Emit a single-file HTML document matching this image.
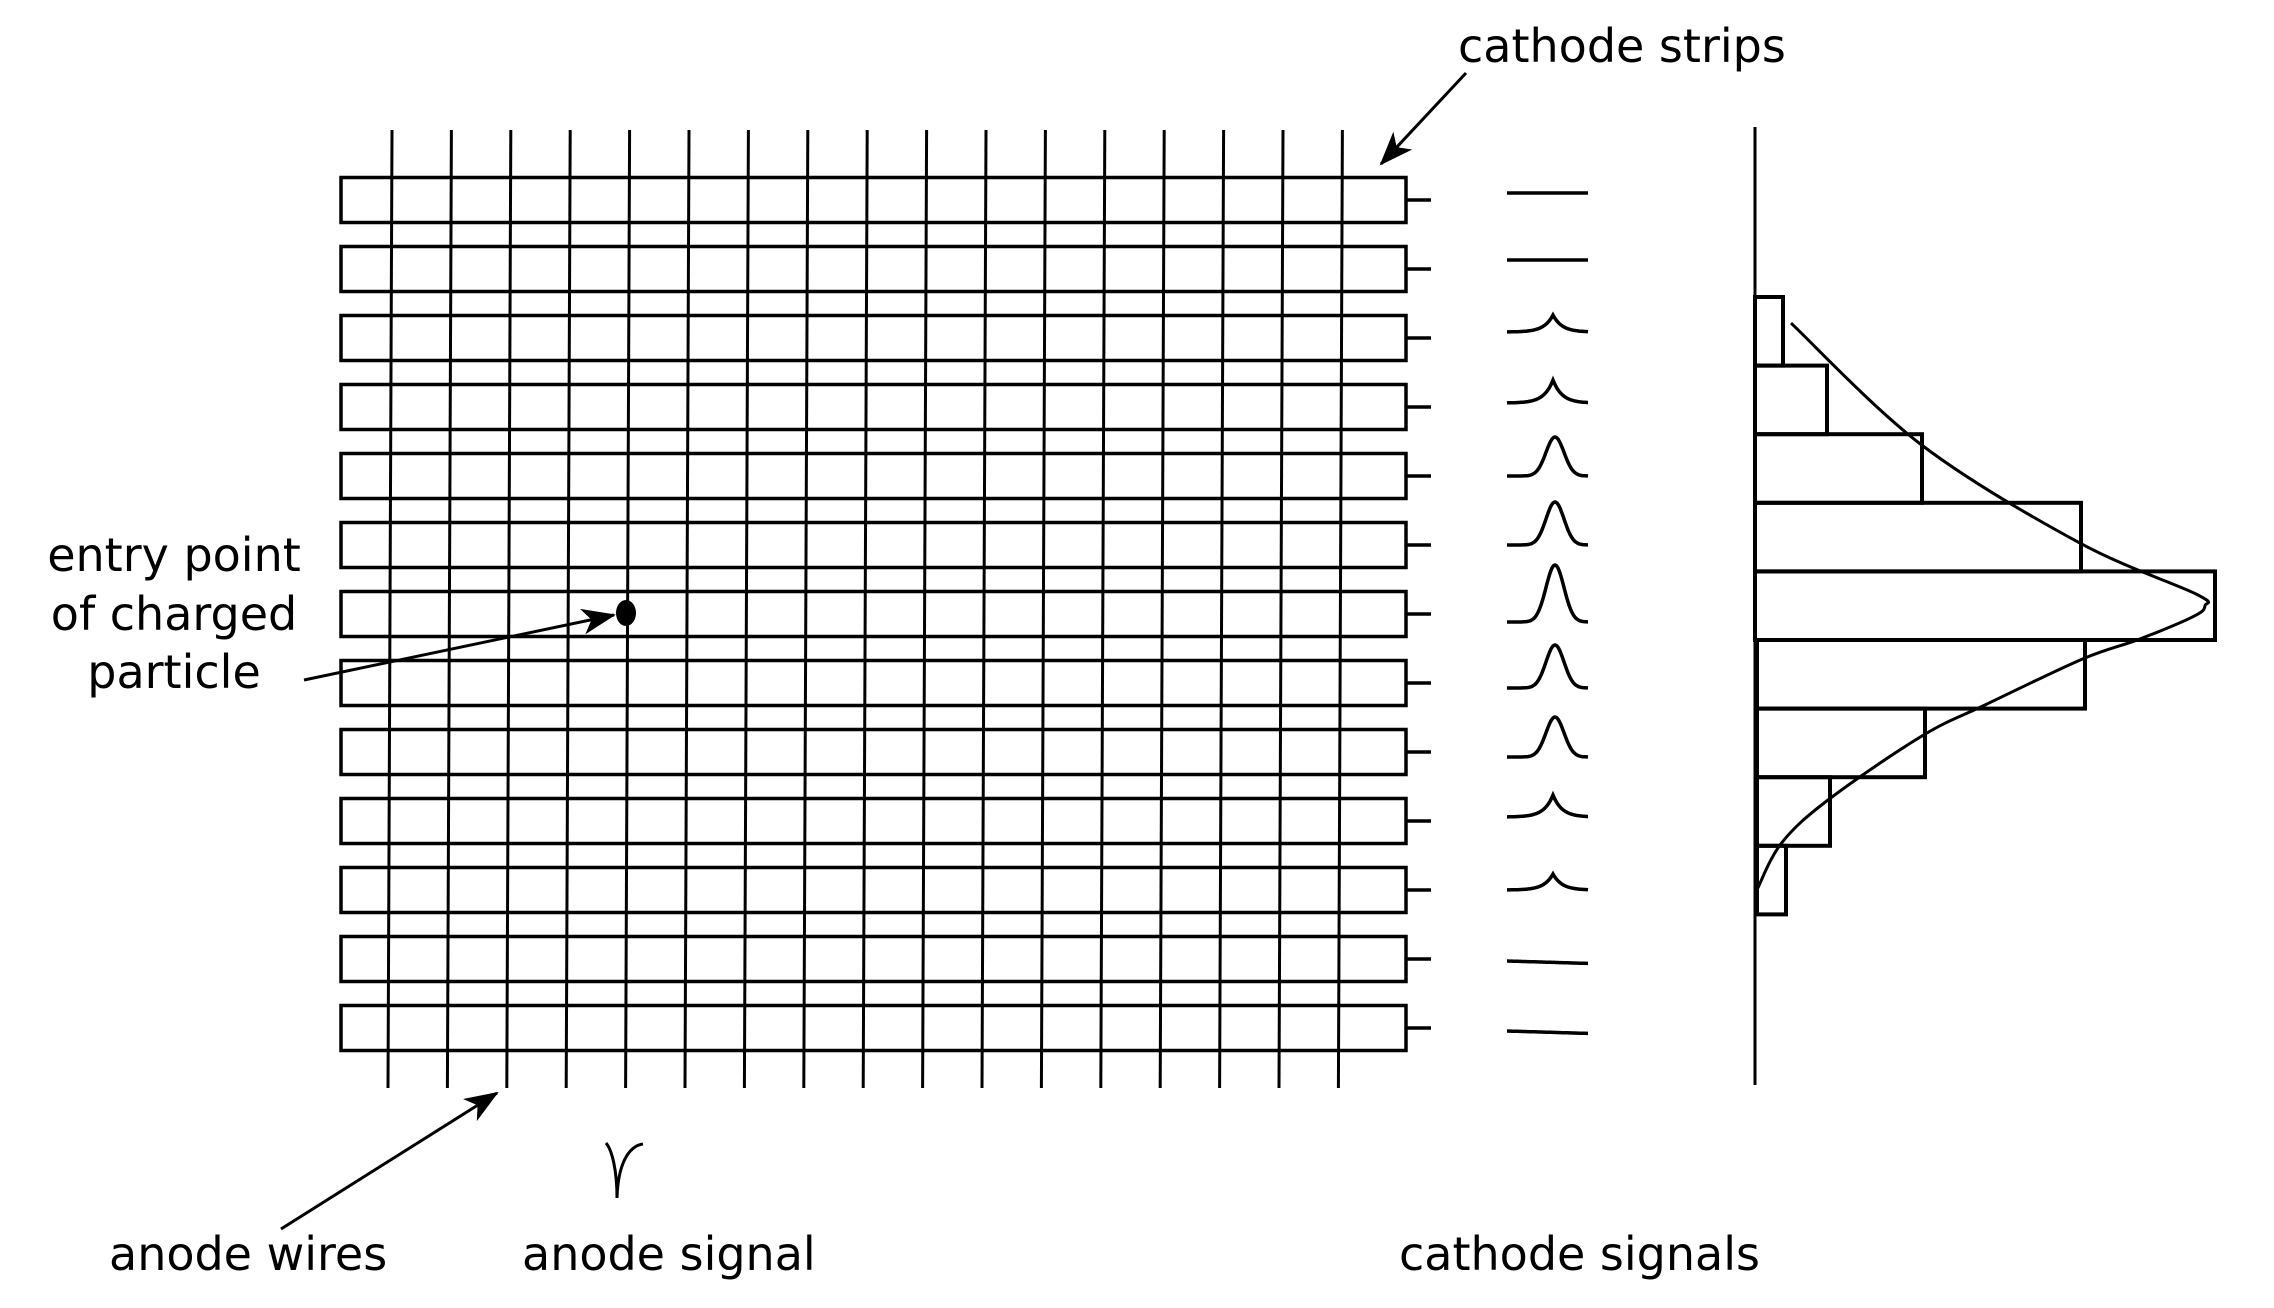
<!DOCTYPE html>
<html><head><meta charset="utf-8"><style>
html,body{margin:0;padding:0;background:#fff;}
svg{display:block;}
text{font-family:"DejaVu Sans","Liberation Sans",sans-serif;font-size:46px;fill:#000;}
</style></head><body>
<svg id="fig" width="2274" height="1308" viewBox="0 0 2274 1308" xmlns="http://www.w3.org/2000/svg">
<defs>
<marker id="ah2" markerWidth="34" markerHeight="26" refX="32" refY="13" orient="auto" markerUnits="userSpaceOnUse"><path d="M0,0 L34,13 L0,26 L9,13 Z" fill="#000"/></marker></defs>
<g id="grid"></g>
<g id="signals"></g>
<g id="hist"></g>
<g id="ann">
<text x="1458" y="62">cathode strips</text>
<line x1="1466" y1="73" x2="1381" y2="164" stroke="#000" stroke-width="3" marker-end="url(#ah2)"/>
<text x="174" y="571" text-anchor="middle">entry point</text>
<text x="174" y="630" text-anchor="middle">of charged</text>
<text x="174" y="688" text-anchor="middle">particle</text>
<line x1="304" y1="680" x2="614" y2="615" stroke="#000" stroke-width="3" marker-end="url(#ah2)"/>
<ellipse cx="626" cy="613" rx="10" ry="13" fill="#000"/>
<text x="109" y="1270">anode wires</text>
<line x1="281" y1="1229" x2="497" y2="1093" stroke="#000" stroke-width="3" marker-end="url(#ah2)"/>
<path d="M606,1143 C612,1150 617,1170 617,1198 C618,1165 628,1146 643,1144" fill="none" stroke="#000" stroke-width="3"/>
<text x="522" y="1270">anode signal</text>
<text x="1399" y="1270">cathode signals</text>
</g>
</svg>
<script>
// data
const stripIndex = [0,1,2,3,4,5,6,7,8,9,10,11,12];
const signalAmp = [0,0,17,23,39,43,57,43,40,22,16,0,0];
const signalShape = ['flat','flat','cusp','cusp','peak','peak','peak','peak','peak','cusp','cusp','flat','flat'];
const signalBaseOffset = [-7,-9,-6,-4,0,0,8,5,5,-4,0,2,3];
const wireIndex = [0,1,2,3,4,5,6,7,8,9,10,11,12,13,14,15,16];
const histCharge = [28,72,167,326,460,330,170,75,31];
const curveCharge = [36,166,324,441,450,438,384,327,231,168,75,27,2];
const curveBin = [0.38,2.15,3.58,4.33,4.5,4.66,4.99,5.28,5.94,6.39,7.31,7.95,8.64];

const NS='http://www.w3.org/2000/svg';
function mk(tag, attrs, parent){const e=document.createElementNS(NS,tag);for(const k in attrs)e.setAttribute(k,attrs[k]);parent.appendChild(e);return e;}
// axes
const stripY = i => 200 + i*69;
const wireX = i => 392 + i*59.4;
const histX = v => 1755 + v;
const binY = b => 297 + b*68.6;

const grid=document.getElementById('grid');
stripIndex.forEach(i=>{
  const r=mk('rect',{x:341,y:stripY(i)-22.5,width:1065,height:45,fill:'none',stroke:'#000','stroke-width':3.5},grid);
  
  
  const s=mk('line',{x1:1406,y1:stripY(i),x2:1431,y2:stripY(i),stroke:'#000','stroke-width':3.5},grid);
  
  
});
wireIndex.forEach(i=>{
  const l=mk('line',{x1:wireX(i),y1:130,x2:wireX(i)-4,y2:1088,stroke:'#000','stroke-width':3},grid);
  
  
});

const sig=document.getElementById('signals');
stripIndex.forEach(i=>{
  const base=stripY(i)+signalBaseOffset[i];
  const A=signalAmp[i], sh=signalShape[i];
  let d='';
  for(let x=1507;x<=1588;x+=1){
    let h=0;
    if(sh==='cusp'){h=A*Math.exp(-Math.abs(x-1553)/9);}
    else if(sh==='peak'){h=A*Math.exp(-Math.pow((x-1555)/9,2)/2);}
    const y=base-h+(sh==='flat'&&i>10?(x-1507)*0.03:0);
    d+=(d?'L':'M')+x+','+y.toFixed(1);
  }
  const p=mk('path',{d:d,fill:'none',stroke:'#000','stroke-width':3.5},sig);
  
  
});

const hist=document.getElementById('hist');
const ax=mk('line',{x1:1755,y1:127,x2:1755,y2:1085,stroke:'#000','stroke-width':3},hist);


histCharge.forEach((v,i)=>{
  const r=mk('rect',{x:histX(0)+(i>=5?2:0),y:binY(i),width:v-(i>=5?2:0),height:68.6,fill:'none',stroke:'#000','stroke-width':4},hist);
  
  
});
// smooth curve through fit points (Catmull-Rom)
const pts=curveCharge.map((v,i)=>[histX(v),binY(curveBin[i])]);
let cd='M'+pts[0][0]+','+pts[0][1];
for(let i=0;i<pts.length-1;i++){
  const p0=pts[Math.max(0,i-1)],p1=pts[i],p2=pts[i+1],p3=pts[Math.min(pts.length-1,i+2)];
  const c1=[p1[0]+(p2[0]-p0[0])/6,p1[1]+(p2[1]-p0[1])/6];
  const c2=[p2[0]-(p3[0]-p1[0])/6,p2[1]-(p3[1]-p1[1])/6];
  cd+=' C'+c1[0].toFixed(1)+','+c1[1].toFixed(1)+' '+c2[0].toFixed(1)+','+c2[1].toFixed(1)+' '+p2[0].toFixed(1)+','+p2[1].toFixed(1);
}
const cv=mk('path',{d:cd,fill:'none',stroke:'#000','stroke-width':3},hist);


</script>
</body></html>
